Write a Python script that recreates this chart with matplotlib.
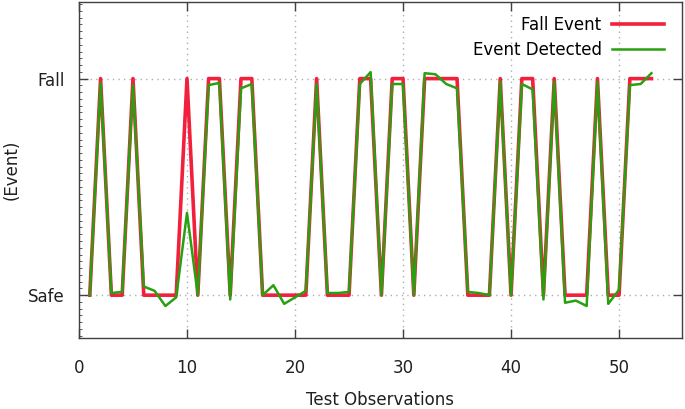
import numpy as np
import matplotlib
matplotlib.use("Agg")
import matplotlib.pyplot as plt
from matplotlib.ticker import MultipleLocator

# observation index and the two series (0 = Safe, 1 = Fall)
obs = np.arange(1, 54)
fall_event = [0, 1, 0, 0, 1, 0, 0, 0, 0, 1,
              0, 1, 1, 0, 1, 1, 0, 0, 0, 0,
              0, 1, 0, 0, 0, 1, 1, 0, 1, 1,
              0, 1, 1, 1, 1, 0, 0, 0, 1, 0,
              1, 1, 0, 1, 0, 0, 0, 1, 0, 0,
              1, 1, 1]
detected = [0.0, 0.98, 0.01, 0.015, 0.97, 0.04, 0.02, -0.05, -0.01, 0.38,
            0.0, 0.97, 0.98, -0.02, 0.955, 0.975, 0.0, 0.046, -0.04, -0.01,
            0.02, 0.975, 0.01, 0.01, 0.015, 0.975, 1.03, 0.0, 0.975, 0.975,
            0.0, 1.025, 1.02, 0.975, 0.955, 0.015, 0.01, 0.0, 0.985, 0.0,
            0.975, 0.95, -0.02, 0.985, -0.035, -0.025, -0.05, 0.985, -0.04, 0.025,
            0.97, 0.975, 1.025]
ytick_labels = ["Safe", "Fall"]

plt.rcParams['font.family'] = 'DejaVu Sans'
plt.rcParams['font.size'] = 12

fig = plt.figure(figsize=(6.85, 4.09), dpi=100)
ax = fig.add_axes([0.1153, 0.1724, 0.9952 - 0.1153, 0.9958 - 0.1724])

ax.plot(obs, fall_event, color='#f2203c', lw=2.6, label='Fall Event', zorder=3)
ax.plot(obs, detected, color='#2aa010', lw=1.8, label='Event Detected', zorder=4)

ax.set_xlim(0, 55.8)
ax.set_ylim(-0.2, 1.355)
ax.set_xticks(range(0, 51, 10))
ax.set_yticks([0, 1])
ax.set_yticklabels(ytick_labels)
ax.yaxis.set_minor_locator(MultipleLocator(1 / 32))
ax.tick_params(axis='y', which='minor', direction='in', length=2, width=0.6,
               color='#404040', right=False)
ax.tick_params(axis='both', which='major', direction='in', length=6.5, width=1,
               color='#404040', top=True, right=True, labelcolor='#202020')
ax.tick_params(axis='x', pad=15)
ax.tick_params(axis='y', pad=10)

ax.grid(True, which='major', color='#a8b0b0', linestyle=(0, (1, 3)), lw=1)
for s in ax.spines.values():
    s.set_color('#404040')
    s.set_linewidth(1)

ax.set_xlabel('Test Observations', labelpad=9.5, color='#202020')
ax.set_ylabel('(Event)', color='#202020')
ax.yaxis.set_label_coords(-0.097, 0.5)

ax.legend(loc='upper right', frameon=False, markerfirst=False,
          handlelength=3.1, handletextpad=0.65, labelspacing=0.45,
          borderaxespad=0.3, bbox_to_anchor=(0.99, 0.993))

fig.savefig('out.png', dpi=100)
